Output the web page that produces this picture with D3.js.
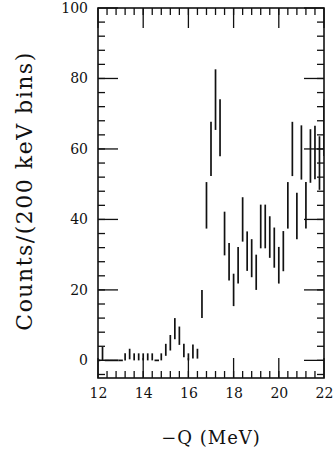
<!DOCTYPE html>
<meta charset="utf-8">
<script src="https://d3js.org/d3.v7.min.js"></script>
<style>
  body { margin:0; background:#fff; }
  text { font-family: "DejaVu Serif", serif; fill:#111; }
</style>
<div id="my_dataviz"></div>
<script>

// bin centres (MeV), counts and error half-lengths
var energies = [12.0, 12.2, 12.4, 12.6, 12.8, 13.0, 13.2, 13.4, 13.6, 13.8,
                14.0, 14.2, 14.4, 14.6, 14.8, 15.0, 15.2, 15.4, 15.6, 15.8,
                16.0, 16.2, 16.4, 16.6, 16.8, 17.0, 17.2, 17.4, 17.6, 17.8,
                18.0, 18.2, 18.4, 18.6, 18.8, 19.0, 19.2, 19.4, 19.6, 19.8,
                20.0, 20.2, 20.4, 20.6, 20.8, 21.0, 21.2, 21.4, 21.6, 21.8, 22.0];
var counts = [0, 1.9, 0, 0, 0, 0, 1, 1.8, 1, 1,
              1, 1, 1, 0, 1, 3, 5, 9, 7, 2.8,
              1, 2.5, 1.9, 16, 44, 60, 74, 66, 36, 28,
              20, 27, 40, 31, 29, 25, 38, 38, 35, 32,
              27, 31, 44, 60, 41, 59, 44, 58, 59, 56, 66];
var errors = [0, 1.9, 0, 0, 0, 0, 1, 1.5, 1, 1,
              1, 1, 1, 0, 1, 1.7, 2.2, 3, 2.6, 1.9,
              1, 2, 1.4, 4, 6.6, 7.7, 8.6, 8.1, 6.2, 5.3,
              4.6, 5.2, 6.3, 5.6, 5.4, 5, 6.2, 6.2, 5.9, 5.7,
              5.2, 5.7, 6.6, 7.7, 6.6, 7.7, 6.6, 7.6, 7.6, 7.6, 8];

var xTicks = [12, 14, 16, 18, 20, 22];
var yTicks = [0, 20, 40, 60, 80, 100];

var margin = {top: 8, right: 10, bottom: 74, left: 98},
    width = 334 - margin.left - margin.right,
    height = 452 - margin.top - margin.bottom;

var svg = d3.select("#my_dataviz")
  .append("svg")
  .attr("width", 334)
  .attr("height", 452)
  .append("g")
  .attr("transform", "translate(" + margin.left + "," + margin.top + ")");

var x = d3.scaleLinear().domain([12, 22]).range([0, width]);
var y = d3.scaleLinear().domain([-5, 100]).range([height, 0]);

var data = energies.map(function(e, i) { return {x: e, v: counts[i], err: errors[i]}; });

svg.append("clipPath").attr("id", "clip")
  .append("rect").attr("width", width).attr("height", height);

// frame ticks, drawn inward on all four sides
var minorX = d3.range(12.4, 22, 0.4), minorY = d3.range(-4, 100, 4);
var ticks = svg.append("g").attr("stroke", "#111").attr("stroke-width", 1.3);
minorX.forEach(function(t) {
  ticks.append("line").attr("x1", x(t)).attr("x2", x(t)).attr("y1", height).attr("y2", height - 7);
  ticks.append("line").attr("x1", x(t)).attr("x2", x(t)).attr("y1", 0).attr("y2", 7);
});
minorY.forEach(function(t) {
  ticks.append("line").attr("y1", y(t)).attr("y2", y(t)).attr("x1", 0).attr("x2", 7);
  ticks.append("line").attr("y1", y(t)).attr("y2", y(t)).attr("x1", width).attr("x2", width - 7);
});
xTicks.forEach(function(t) {
  ticks.append("line").attr("x1", x(t)).attr("x2", x(t)).attr("y1", height).attr("y2", height - 20);
  ticks.append("line").attr("x1", x(t)).attr("x2", x(t)).attr("y1", 0).attr("y2", 20);
});
yTicks.forEach(function(t) {
  ticks.append("line").attr("y1", y(t)).attr("y2", y(t)).attr("x1", 0).attr("x2", 20);
  ticks.append("line").attr("y1", y(t)).attr("y2", y(t)).attr("x1", width).attr("x2", width - 20);
});

svg.append("rect")
  .attr("width", width).attr("height", height)
  .attr("fill", "none").attr("stroke", "#111").attr("stroke-width", 1.6);

// tick labels
svg.append("g").attr("transform", "translate(0," + height + ")")
  .call(d3.axisBottom(x).tickValues(xTicks).tickSize(0).tickPadding(10).tickFormat(d3.format("d")))
  .call(function(g) { g.select(".domain").remove(); })
  .selectAll("text").style("font-size", "14px").style("font-family", "DejaVu Serif");

svg.append("g")
  .call(d3.axisLeft(y).tickValues(yTicks).tickSize(0).tickPadding(10).tickFormat(d3.format("d")))
  .call(function(g) { g.select(".domain").remove(); })
  .selectAll("text").style("font-size", "14px").style("font-family", "DejaVu Serif");

// error bars
var marks = svg.append("g").attr("clip-path", "url(#clip)")
  .attr("stroke", "#111").attr("stroke-width", 1.7);

marks.selectAll(".bar")
  .data(data.filter(function(d) { return d.v > 0; }))
  .enter().append("line")
  .attr("x1", function(d) { return x(d.x); })
  .attr("x2", function(d) { return x(d.x); })
  .attr("y1", function(d) { return y(d.v - d.err); })
  .attr("y2", function(d) { return y(d.v + d.err); });

// empty bins: flat line at zero across the bin
marks.selectAll(".zero")
  .data(data.filter(function(d) { return d.v === 0; }))
  .enter().append("line")
  .attr("x1", function(d) { return x(d.x - 0.1); })
  .attr("x2", function(d) { return x(d.x + 0.1); })
  .attr("y1", y(0))
  .attr("y2", y(0));

// axis titles
svg.append("text")
  .attr("x", width / 2).attr("y", height + 66)
  .attr("text-anchor", "middle")
  .style("font-size", "18px")
  .style("letter-spacing", "1px")
  .text("\u2212Q (MeV)");

svg.append("text")
  .attr("transform", "translate(" + (-66) + "," + (height / 2 - 2) + ") rotate(-90)")
  .attr("text-anchor", "middle")
  .style("font-size", "22px")
  .style("letter-spacing", "1.5px")
  .text("Counts/(200 keV bins)");

</script>
